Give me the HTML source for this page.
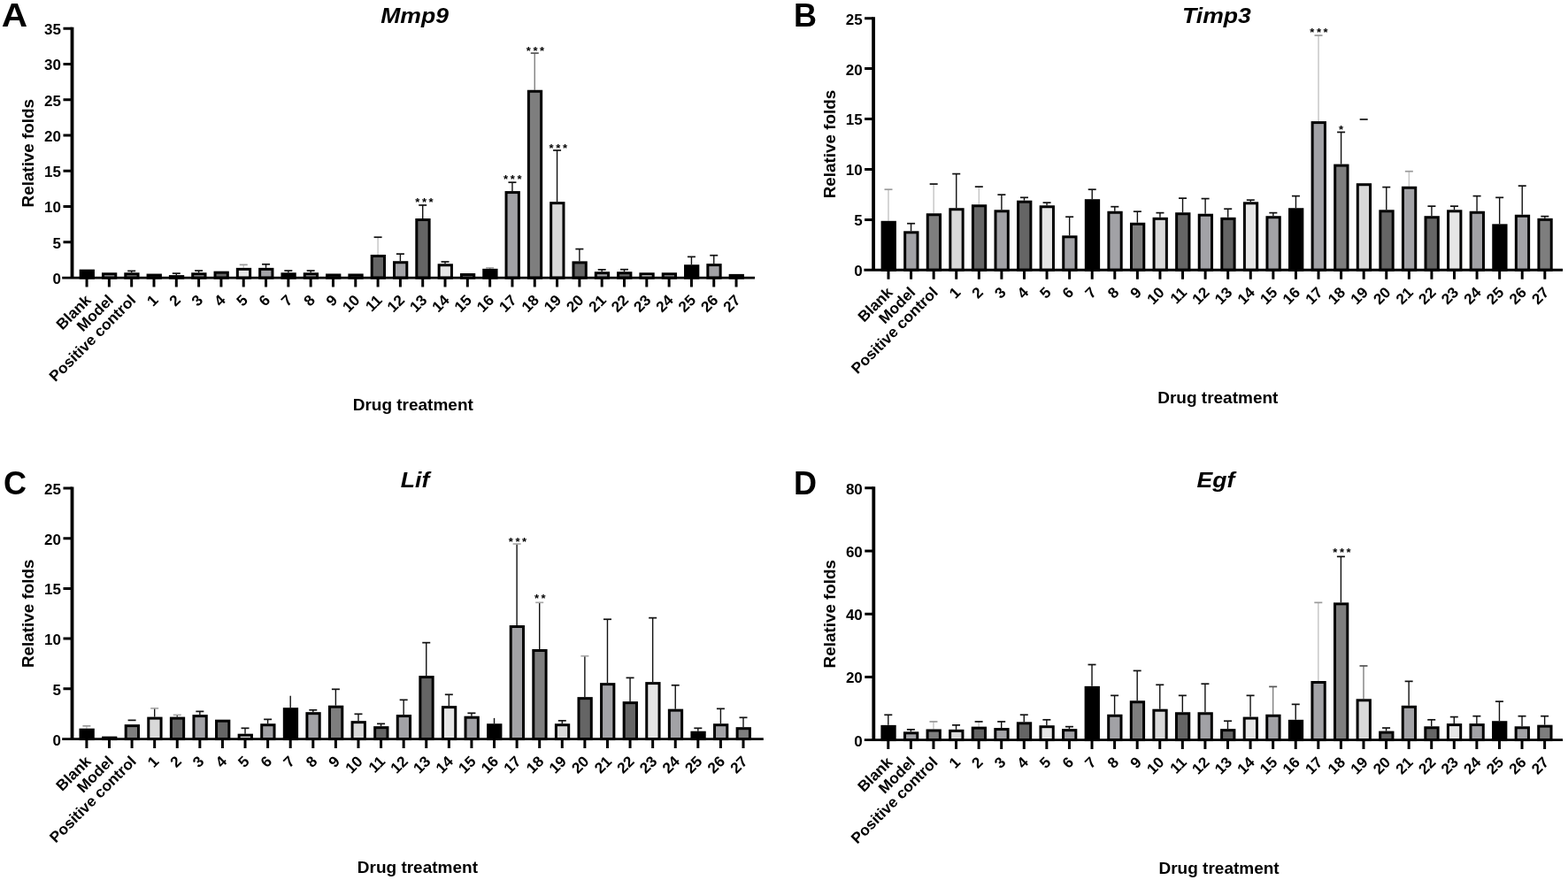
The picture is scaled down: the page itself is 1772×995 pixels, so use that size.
<!DOCTYPE html>
<html><head><meta charset="utf-8"><title>Figure</title>
<style>
html,body{margin:0;padding:0;background:#fff;}
svg{display:block;filter:blur(0.35px);}
text{font-family:"Liberation Sans",Arial,sans-serif;font-weight:bold;fill:#000;}
.L{font-size:36px;}
.T{font-size:24.5px;font-style:italic;text-anchor:middle;}
.Y{font-size:18.3px;text-anchor:middle;}
.X{font-size:19px;text-anchor:middle;}
.N{font-size:17px;text-anchor:end;}
.C{font-size:17px;text-anchor:end;}
.S{font-size:13px;text-anchor:middle;letter-spacing:2.6px;}
.bar{stroke:#000;stroke-width:3;}
.eb{stroke-width:1.4;fill:none;}
.ec{stroke-width:1.7;fill:none;}
.ax{stroke:#000;stroke-width:2.9;fill:none;}
.ay{stroke:#000;stroke-width:3.8;fill:none;}
.tk{stroke:#000;stroke-width:3;fill:none;}
</style></head><body>
<svg width="1772" height="995" viewBox="0 0 1772 995">
<rect width="1772" height="995" fill="#fff"/>
<g><text class="L" transform="translate(1.7,30.3) scale(1.13,1)">A</text><text class="T" transform="translate(468.6,25.7) scale(1.085,1)">Mmp9</text><text class="Y" transform="translate(38.3,173.2) rotate(-90) scale(1.03,1)">Relative folds</text><text class="X" x="466.75" y="463.7">Drug treatment</text><rect x="91.16" y="306.14" width="14.3" height="7.96" fill="#000000" class="bar"/><rect x="116.47" y="309.77" width="14.3" height="4.33" fill="#a2a2a6" class="bar"/><path class="eb" stroke="#111" d="M148.68 308.27V306.37"/><path class="ec" stroke="#111" d="M144.18 306.37H153.18"/><rect x="141.78" y="309.77" width="14.3" height="4.33" fill="#7e7e7e" class="bar"/><rect x="167.09" y="311.05" width="14.3" height="3.05" fill="#d9d9d9" class="bar"/><path class="eb" stroke="#111" d="M199.3 311.08V309.11"/><path class="ec" stroke="#111" d="M194.8 309.11H203.8"/><rect x="192.4" y="312.58" width="14.3" height="1.52" fill="#656565" class="bar"/><path class="eb" stroke="#111" d="M224.61 308.27V306.05"/><path class="ec" stroke="#111" d="M220.11 306.05H229.11"/><rect x="217.71" y="309.77" width="14.3" height="4.33" fill="#a2a2a6" class="bar"/><rect x="243.02" y="308.16" width="14.3" height="5.94" fill="#656565" class="bar"/><path class="eb" stroke="#c4c4c4" d="M275.23 302.87V299.37"/><path class="ec" stroke="#9a9a9a" d="M270.73 299.37H279.73"/><rect x="268.33" y="304.37" width="14.3" height="9.73" fill="#e6e6e6" class="bar"/><path class="eb" stroke="#111" d="M300.54 302.87V298.8"/><path class="ec" stroke="#111" d="M296.04 298.8H305.04"/><rect x="293.64" y="304.37" width="14.3" height="9.73" fill="#a2a2a6" class="bar"/><path class="eb" stroke="#111" d="M325.85 308.27V306.05"/><path class="ec" stroke="#111" d="M321.35 306.05H330.35"/><rect x="318.95" y="309.77" width="14.3" height="4.33" fill="#000000" class="bar"/><path class="eb" stroke="#111" d="M351.16 308.27V306.05"/><path class="ec" stroke="#111" d="M346.66 306.05H355.66"/><rect x="344.26" y="309.77" width="14.3" height="4.33" fill="#a2a2a6" class="bar"/><rect x="369.57" y="310.97" width="14.3" height="3.13" fill="#7e7e7e" class="bar"/><rect x="394.88" y="310.97" width="14.3" height="3.13" fill="#d9d9d9" class="bar"/><path class="eb" stroke="#c4c4c4" d="M427.09 287.98V268.21"/><path class="ec" stroke="#111" d="M422.59 268.21H431.59"/><rect x="420.19" y="289.48" width="14.3" height="24.62" fill="#656565" class="bar"/><path class="eb" stroke="#111" d="M452.4 295.22V287.13"/><path class="ec" stroke="#111" d="M447.9 287.13H456.9"/><rect x="445.5" y="296.72" width="14.3" height="17.38" fill="#a2a2a6" class="bar"/><path class="eb" stroke="#111" d="M477.71 247V231.98"/><path class="ec" stroke="#111" d="M473.21 231.98H482.21"/><rect x="470.81" y="248.5" width="14.3" height="65.6" fill="#656565" class="bar"/><path class="eb" stroke="#111" d="M503.02 298.28V295.98"/><path class="ec" stroke="#111" d="M498.52 295.98H507.52"/><rect x="496.12" y="299.78" width="14.3" height="14.32" fill="#e6e6e6" class="bar"/><rect x="521.43" y="310.49" width="14.3" height="3.61" fill="#a2a2a6" class="bar"/><path class="eb" stroke="#111" d="M553.64 303.84V302.83"/><path class="ec" stroke="#a8a8a8" d="M549.14 302.83H558.14"/><rect x="546.74" y="305.34" width="14.3" height="8.76" fill="#000000" class="bar"/><path class="eb" stroke="#111" d="M578.95 216.08V206.21"/><path class="ec" stroke="#111" d="M574.45 206.21H583.45"/><rect x="572.05" y="217.58" width="14.3" height="96.52" fill="#a2a2a6" class="bar"/><path class="eb" stroke="#808080" d="M604.26 101.75V60.08"/><path class="ec" stroke="#555" d="M599.76 60.08H608.76"/><rect x="597.36" y="103.25" width="14.3" height="210.85" fill="#7e7e7e" class="bar"/><path class="eb" stroke="#111" d="M629.57 228.15V169.98"/><path class="ec" stroke="#111" d="M625.07 169.98H634.07"/><rect x="622.67" y="229.65" width="14.3" height="84.45" fill="#d9d9d9" class="bar"/><path class="eb" stroke="#111" d="M654.88 295.38V281.57"/><path class="ec" stroke="#111" d="M650.38 281.57H659.38"/><rect x="647.98" y="296.88" width="14.3" height="17.22" fill="#656565" class="bar"/><path class="eb" stroke="#111" d="M680.19 307.22V304.84"/><path class="ec" stroke="#111" d="M675.69 304.84H684.69"/><rect x="673.29" y="308.72" width="14.3" height="5.38" fill="#a2a2a6" class="bar"/><path class="eb" stroke="#111" d="M705.5 307.22V304.68"/><path class="ec" stroke="#111" d="M701 304.68H710"/><rect x="698.6" y="308.72" width="14.3" height="5.38" fill="#656565" class="bar"/><rect x="723.91" y="309.77" width="14.3" height="4.33" fill="#e6e6e6" class="bar"/><rect x="749.22" y="309.77" width="14.3" height="4.33" fill="#a2a2a6" class="bar"/><path class="eb" stroke="#111" d="M781.43 299.25V290.35"/><path class="ec" stroke="#111" d="M776.93 290.35H785.93"/><rect x="774.53" y="300.75" width="14.3" height="13.35" fill="#000000" class="bar"/><path class="eb" stroke="#111" d="M806.74 298.12V288.74"/><path class="ec" stroke="#111" d="M802.24 288.74H811.24"/><rect x="799.84" y="299.62" width="14.3" height="14.48" fill="#a2a2a6" class="bar"/><rect x="825.15" y="311.38" width="14.3" height="2.72" fill="#7e7e7e" class="bar"/><text class="S" x="480.8" y="233.3">***</text><text class="S" x="580.6" y="207.1">***</text><text class="S" x="606.3" y="62.1">***</text><text class="S" x="632.1" y="172.2">***</text><path class="ay" d="M81.5 30.8V314.1"/><path class="ax" d="M70.2 314.1H853"/><text class="N" x="69" y="321">0</text><text class="N" x="69" y="280.74">5</text><text class="N" x="69" y="240.49">10</text><text class="N" x="69" y="200.23">15</text><text class="N" x="69" y="159.97">20</text><text class="N" x="69" y="119.71">25</text><text class="N" x="69" y="79.46">30</text><text class="N" x="69" y="39.2">35</text><path class="tk" d="M71.5 273.84H81.5M71.5 233.59H81.5M71.5 193.33H81.5M71.5 153.07H81.5M71.5 112.81H81.5M71.5 72.56H81.5M71.5 32.3H81.5M98.06 314.1V324.6M123.37 314.1V324.6M148.68 314.1V324.6M173.99 314.1V324.6M199.3 314.1V324.6M224.61 314.1V324.6M249.92 314.1V324.6M275.23 314.1V324.6M300.54 314.1V324.6M325.85 314.1V324.6M351.16 314.1V324.6M376.47 314.1V324.6M401.78 314.1V324.6M427.09 314.1V324.6M452.4 314.1V324.6M477.71 314.1V324.6M503.02 314.1V324.6M528.33 314.1V324.6M553.64 314.1V324.6M578.95 314.1V324.6M604.26 314.1V324.6M629.57 314.1V324.6M654.88 314.1V324.6M680.19 314.1V324.6M705.5 314.1V324.6M730.81 314.1V324.6M756.12 314.1V324.6M781.43 314.1V324.6M806.74 314.1V324.6M832.05 314.1V324.6"/><text class="C" transform="translate(103.86,340.4) rotate(-45) scale(1.02,1)">Blank</text><text class="C" transform="translate(129.17,340.4) rotate(-45) scale(1.02,1)">Model</text><text class="C" transform="translate(154.48,340.4) rotate(-45) scale(1.02,1)">Positive control</text><text class="C" transform="translate(179.79,340.4) rotate(-45) scale(1.02,1)">1</text><text class="C" transform="translate(205.1,340.4) rotate(-45) scale(1.02,1)">2</text><text class="C" transform="translate(230.41,340.4) rotate(-45) scale(1.02,1)">3</text><text class="C" transform="translate(255.72,340.4) rotate(-45) scale(1.02,1)">4</text><text class="C" transform="translate(281.03,340.4) rotate(-45) scale(1.02,1)">5</text><text class="C" transform="translate(306.34,340.4) rotate(-45) scale(1.02,1)">6</text><text class="C" transform="translate(331.65,340.4) rotate(-45) scale(1.02,1)">7</text><text class="C" transform="translate(356.96,340.4) rotate(-45) scale(1.02,1)">8</text><text class="C" transform="translate(382.27,340.4) rotate(-45) scale(1.02,1)">9</text><text class="C" transform="translate(407.58,340.4) rotate(-45) scale(1.02,1)">10</text><text class="C" transform="translate(432.89,340.4) rotate(-45) scale(1.02,1)">11</text><text class="C" transform="translate(458.2,340.4) rotate(-45) scale(1.02,1)">12</text><text class="C" transform="translate(483.51,340.4) rotate(-45) scale(1.02,1)">13</text><text class="C" transform="translate(508.82,340.4) rotate(-45) scale(1.02,1)">14</text><text class="C" transform="translate(534.13,340.4) rotate(-45) scale(1.02,1)">15</text><text class="C" transform="translate(559.44,340.4) rotate(-45) scale(1.02,1)">16</text><text class="C" transform="translate(584.75,340.4) rotate(-45) scale(1.02,1)">17</text><text class="C" transform="translate(610.06,340.4) rotate(-45) scale(1.02,1)">18</text><text class="C" transform="translate(635.37,340.4) rotate(-45) scale(1.02,1)">19</text><text class="C" transform="translate(660.68,340.4) rotate(-45) scale(1.02,1)">20</text><text class="C" transform="translate(685.99,340.4) rotate(-45) scale(1.02,1)">21</text><text class="C" transform="translate(711.3,340.4) rotate(-45) scale(1.02,1)">22</text><text class="C" transform="translate(736.61,340.4) rotate(-45) scale(1.02,1)">23</text><text class="C" transform="translate(761.92,340.4) rotate(-45) scale(1.02,1)">24</text><text class="C" transform="translate(787.23,340.4) rotate(-45) scale(1.02,1)">25</text><text class="C" transform="translate(812.54,340.4) rotate(-45) scale(1.02,1)">26</text><text class="C" transform="translate(837.85,340.4) rotate(-45) scale(1.02,1)">27</text></g>
<g><text class="L" x="896.9" y="30.3">B</text><text class="T" transform="translate(1375,25.7) scale(1.085,1)">Timp3</text><text class="Y" transform="translate(943.6,163) rotate(-90) scale(1.03,1)">Relative folds</text><text class="X" x="1376.3" y="456.4">Drug treatment</text><path class="eb" stroke="#c4c4c4" d="M1004 249.8V214.23"/><path class="ec" stroke="#9a9a9a" d="M999.5 214.23H1008.5"/><rect x="997.1" y="251.3" width="14.3" height="54" fill="#000000" class="bar"/><path class="eb" stroke="#111" d="M1029.58 261.3V252.71"/><path class="ec" stroke="#111" d="M1025.08 252.71H1034.08"/><rect x="1022.68" y="262.8" width="14.3" height="42.5" fill="#a2a2a6" class="bar"/><path class="eb" stroke="#c4c4c4" d="M1055.16 241.26V208.08"/><path class="ec" stroke="#111" d="M1050.66 208.08H1059.66"/><rect x="1048.26" y="242.76" width="14.3" height="62.54" fill="#7e7e7e" class="bar"/><path class="eb" stroke="#111" d="M1080.74 235.23V196.58"/><path class="ec" stroke="#111" d="M1076.24 196.58H1085.24"/><rect x="1073.84" y="236.73" width="14.3" height="68.57" fill="#d9d9d9" class="bar"/><path class="eb" stroke="#c4c4c4" d="M1106.32 231.25V211.15"/><path class="ec" stroke="#111" d="M1101.82 211.15H1110.82"/><rect x="1099.42" y="232.75" width="14.3" height="72.55" fill="#656565" class="bar"/><path class="eb" stroke="#111" d="M1131.9 237.28V220.15"/><path class="ec" stroke="#111" d="M1127.4 220.15H1136.4"/><rect x="1125" y="238.78" width="14.3" height="66.52" fill="#a2a2a6" class="bar"/><path class="eb" stroke="#111" d="M1157.48 226.69V223.34"/><path class="ec" stroke="#111" d="M1152.98 223.34H1161.98"/><rect x="1150.58" y="228.19" width="14.3" height="77.11" fill="#656565" class="bar"/><path class="eb" stroke="#111" d="M1183.06 232.27V229.14"/><path class="ec" stroke="#111" d="M1178.56 229.14H1187.56"/><rect x="1176.16" y="233.77" width="14.3" height="71.53" fill="#e6e6e6" class="bar"/><path class="eb" stroke="#111" d="M1208.64 266.31V245.19"/><path class="ec" stroke="#111" d="M1204.14 245.19H1213.14"/><rect x="1201.74" y="267.81" width="14.3" height="37.49" fill="#a2a2a6" class="bar"/><path class="eb" stroke="#111" d="M1234.22 225.21V214.23"/><path class="ec" stroke="#111" d="M1229.72 214.23H1238.72"/><rect x="1227.32" y="226.71" width="14.3" height="78.59" fill="#000000" class="bar"/><path class="eb" stroke="#111" d="M1259.8 238.76V233.69"/><path class="ec" stroke="#111" d="M1255.3 233.69H1264.3"/><rect x="1252.9" y="240.26" width="14.3" height="65.04" fill="#a2a2a6" class="bar"/><path class="eb" stroke="#111" d="M1285.38 251.74V239.16"/><path class="ec" stroke="#111" d="M1280.88 239.16H1289.88"/><rect x="1278.48" y="253.24" width="14.3" height="52.06" fill="#7e7e7e" class="bar"/><path class="eb" stroke="#111" d="M1310.96 245.82V240.64"/><path class="ec" stroke="#111" d="M1306.46 240.64H1315.46"/><rect x="1304.06" y="247.32" width="14.3" height="57.98" fill="#d9d9d9" class="bar"/><path class="eb" stroke="#111" d="M1336.54 240.24V224.13"/><path class="ec" stroke="#111" d="M1332.04 224.13H1341.04"/><rect x="1329.64" y="241.74" width="14.3" height="63.56" fill="#656565" class="bar"/><path class="eb" stroke="#111" d="M1362.12 241.72V224.59"/><path class="ec" stroke="#111" d="M1357.62 224.59H1366.62"/><rect x="1355.22" y="243.22" width="14.3" height="62.08" fill="#a2a2a6" class="bar"/><path class="eb" stroke="#111" d="M1387.7 245.82V236.2"/><path class="ec" stroke="#111" d="M1383.2 236.2H1392.2"/><rect x="1380.8" y="247.32" width="14.3" height="57.98" fill="#656565" class="bar"/><path class="eb" stroke="#111" d="M1413.28 228.29V226.18"/><path class="ec" stroke="#111" d="M1408.78 226.18H1417.78"/><rect x="1406.38" y="229.79" width="14.3" height="75.51" fill="#e6e6e6" class="bar"/><path class="eb" stroke="#111" d="M1438.86 244.22V240.64"/><path class="ec" stroke="#111" d="M1434.36 240.64H1443.36"/><rect x="1431.96" y="245.72" width="14.3" height="59.58" fill="#a2a2a6" class="bar"/><path class="eb" stroke="#111" d="M1464.44 235.23V221.63"/><path class="ec" stroke="#111" d="M1459.94 221.63H1468.94"/><rect x="1457.54" y="236.73" width="14.3" height="68.57" fill="#000000" class="bar"/><path class="eb" stroke="#c4c4c4" d="M1490.02 137.1V40.05"/><path class="ec" stroke="#9a9a9a" d="M1485.52 40.05H1494.52"/><rect x="1483.12" y="138.6" width="14.3" height="166.7" fill="#a2a2a6" class="bar"/><path class="eb" stroke="#111" d="M1515.6 185.6V149.45"/><path class="ec" stroke="#111" d="M1511.1 149.45H1520.1"/><rect x="1508.7" y="187.1" width="14.3" height="118.2" fill="#7e7e7e" class="bar"/><path class="eb" stroke="none" d="M1541.18 207.23V135"/><path class="ec" stroke="#111" d="M1536.68 135H1545.68"/><rect x="1534.28" y="208.73" width="14.3" height="96.57" fill="#d9d9d9" class="bar"/><path class="eb" stroke="#111" d="M1566.76 237.28V211.61"/><path class="ec" stroke="#111" d="M1562.26 211.61H1571.26"/><rect x="1559.86" y="238.78" width="14.3" height="66.52" fill="#656565" class="bar"/><path class="eb" stroke="#c4c4c4" d="M1592.34 210.75V193.74"/><path class="ec" stroke="#9a9a9a" d="M1587.84 193.74H1596.84"/><rect x="1585.44" y="212.25" width="14.3" height="93.05" fill="#a2a2a6" class="bar"/><path class="eb" stroke="#111" d="M1617.92 244.22V233.13"/><path class="ec" stroke="#111" d="M1613.42 233.13H1622.42"/><rect x="1611.02" y="245.72" width="14.3" height="59.58" fill="#656565" class="bar"/><path class="eb" stroke="#111" d="M1643.5 237.28V233.13"/><path class="ec" stroke="#111" d="M1639 233.13H1648"/><rect x="1636.6" y="238.78" width="14.3" height="66.52" fill="#e6e6e6" class="bar"/><path class="eb" stroke="#111" d="M1669.08 238.76V221.63"/><path class="ec" stroke="#111" d="M1664.58 221.63H1673.58"/><rect x="1662.18" y="240.26" width="14.3" height="65.04" fill="#a2a2a6" class="bar"/><path class="eb" stroke="#111" d="M1694.66 253.33V223.34"/><path class="ec" stroke="#111" d="M1690.16 223.34H1699.16"/><rect x="1687.76" y="254.83" width="14.3" height="50.47" fill="#000000" class="bar"/><path class="eb" stroke="#111" d="M1720.24 242.74V210.13"/><path class="ec" stroke="#111" d="M1715.74 210.13H1724.74"/><rect x="1713.34" y="244.24" width="14.3" height="61.06" fill="#a2a2a6" class="bar"/><path class="eb" stroke="#111" d="M1745.82 246.84V244.62"/><path class="ec" stroke="#111" d="M1741.32 244.62H1750.32"/><rect x="1738.92" y="248.34" width="14.3" height="56.96" fill="#7e7e7e" class="bar"/><text class="S" x="1491.8" y="41.3">***</text><text class="S" x="1516.9" y="151.1">*</text><path class="ay" d="M987.1 19.2V305.3"/><path class="ax" d="M976.4 305.3H1766.1"/><text class="N" x="974.6" y="312.2">0</text><text class="N" x="974.6" y="255.28">5</text><text class="N" x="974.6" y="198.36">10</text><text class="N" x="974.6" y="141.44">15</text><text class="N" x="974.6" y="84.52">20</text><text class="N" x="974.6" y="27.6">25</text><path class="tk" d="M977.1 248.38H987.1M977.1 191.46H987.1M977.1 134.54H987.1M977.1 77.62H987.1M977.1 20.7H987.1M1004 305.3V315.8M1029.58 305.3V315.8M1055.16 305.3V315.8M1080.74 305.3V315.8M1106.32 305.3V315.8M1131.9 305.3V315.8M1157.48 305.3V315.8M1183.06 305.3V315.8M1208.64 305.3V315.8M1234.22 305.3V315.8M1259.8 305.3V315.8M1285.38 305.3V315.8M1310.96 305.3V315.8M1336.54 305.3V315.8M1362.12 305.3V315.8M1387.7 305.3V315.8M1413.28 305.3V315.8M1438.86 305.3V315.8M1464.44 305.3V315.8M1490.02 305.3V315.8M1515.6 305.3V315.8M1541.18 305.3V315.8M1566.76 305.3V315.8M1592.34 305.3V315.8M1617.92 305.3V315.8M1643.5 305.3V315.8M1669.08 305.3V315.8M1694.66 305.3V315.8M1720.24 305.3V315.8M1745.82 305.3V315.8"/><text class="C" transform="translate(1009.8,331.6) rotate(-45) scale(1.02,1)">Blank</text><text class="C" transform="translate(1035.38,331.6) rotate(-45) scale(1.02,1)">Model</text><text class="C" transform="translate(1060.96,331.6) rotate(-45) scale(1.02,1)">Positive control</text><text class="C" transform="translate(1086.54,331.6) rotate(-45) scale(1.02,1)">1</text><text class="C" transform="translate(1112.12,331.6) rotate(-45) scale(1.02,1)">2</text><text class="C" transform="translate(1137.7,331.6) rotate(-45) scale(1.02,1)">3</text><text class="C" transform="translate(1163.28,331.6) rotate(-45) scale(1.02,1)">4</text><text class="C" transform="translate(1188.86,331.6) rotate(-45) scale(1.02,1)">5</text><text class="C" transform="translate(1214.44,331.6) rotate(-45) scale(1.02,1)">6</text><text class="C" transform="translate(1240.02,331.6) rotate(-45) scale(1.02,1)">7</text><text class="C" transform="translate(1265.6,331.6) rotate(-45) scale(1.02,1)">8</text><text class="C" transform="translate(1291.18,331.6) rotate(-45) scale(1.02,1)">9</text><text class="C" transform="translate(1316.76,331.6) rotate(-45) scale(1.02,1)">10</text><text class="C" transform="translate(1342.34,331.6) rotate(-45) scale(1.02,1)">11</text><text class="C" transform="translate(1367.92,331.6) rotate(-45) scale(1.02,1)">12</text><text class="C" transform="translate(1393.5,331.6) rotate(-45) scale(1.02,1)">13</text><text class="C" transform="translate(1419.08,331.6) rotate(-45) scale(1.02,1)">14</text><text class="C" transform="translate(1444.66,331.6) rotate(-45) scale(1.02,1)">15</text><text class="C" transform="translate(1470.24,331.6) rotate(-45) scale(1.02,1)">16</text><text class="C" transform="translate(1495.82,331.6) rotate(-45) scale(1.02,1)">17</text><text class="C" transform="translate(1521.4,331.6) rotate(-45) scale(1.02,1)">18</text><text class="C" transform="translate(1546.98,331.6) rotate(-45) scale(1.02,1)">19</text><text class="C" transform="translate(1572.56,331.6) rotate(-45) scale(1.02,1)">20</text><text class="C" transform="translate(1598.14,331.6) rotate(-45) scale(1.02,1)">21</text><text class="C" transform="translate(1623.72,331.6) rotate(-45) scale(1.02,1)">22</text><text class="C" transform="translate(1649.3,331.6) rotate(-45) scale(1.02,1)">23</text><text class="C" transform="translate(1674.88,331.6) rotate(-45) scale(1.02,1)">24</text><text class="C" transform="translate(1700.46,331.6) rotate(-45) scale(1.02,1)">25</text><text class="C" transform="translate(1726.04,331.6) rotate(-45) scale(1.02,1)">26</text><text class="C" transform="translate(1751.62,331.6) rotate(-45) scale(1.02,1)">27</text></g>
<g><text class="L" x="3.9" y="559.4">C</text><text class="T" transform="translate(469,551.3) scale(1.085,1)">Lif</text><text class="Y" transform="translate(38.3,693.75) rotate(-90) scale(1.03,1)">Relative folds</text><text class="X" x="471.9" y="986.6">Drug treatment</text><path class="eb" stroke="#c4c4c4" d="M97.9 823.67V820.85"/><path class="ec" stroke="#9a9a9a" d="M93.4 820.85H102.4"/><rect x="91" y="825.17" width="14.3" height="10.43" fill="#000000" class="bar"/><rect x="116.59" y="834.13" width="14.3" height="1.47" fill="#a2a2a6" class="bar"/><path class="eb" stroke="none" d="M149.08 819.13V814.38"/><path class="ec" stroke="#111" d="M144.58 814.38H153.58"/><rect x="142.18" y="820.63" width="14.3" height="14.97" fill="#7e7e7e" class="bar"/><path class="eb" stroke="#111" d="M174.67 810.62V800.88"/><path class="ec" stroke="#a8a8a8" d="M170.17 800.88H179.17"/><rect x="167.77" y="812.12" width="14.3" height="23.48" fill="#d9d9d9" class="bar"/><path class="eb" stroke="#111" d="M200.26 810.62V808.36"/><path class="ec" stroke="#a8a8a8" d="M195.76 808.36H204.76"/><rect x="193.36" y="812.12" width="14.3" height="23.48" fill="#656565" class="bar"/><path class="eb" stroke="#111" d="M225.85 808.12V804.39"/><path class="ec" stroke="#111" d="M221.35 804.39H230.35"/><rect x="218.95" y="809.62" width="14.3" height="25.98" fill="#a2a2a6" class="bar"/><rect x="244.54" y="815.18" width="14.3" height="20.42" fill="#656565" class="bar"/><path class="eb" stroke="#111" d="M277.03 829.68V823.34"/><path class="ec" stroke="#111" d="M272.53 823.34H281.53"/><rect x="270.13" y="831.18" width="14.3" height="4.42" fill="#e6e6e6" class="bar"/><path class="eb" stroke="#111" d="M302.62 818.22V813.36"/><path class="ec" stroke="#111" d="M298.12 813.36H307.12"/><rect x="295.72" y="819.72" width="14.3" height="15.88" fill="#a2a2a6" class="bar"/><path class="eb" stroke="#111" d="M328.21 800.18V786.8"/><path class="ec" stroke="none" d="M323.71 786.8H332.71"/><rect x="321.31" y="801.68" width="14.3" height="33.92" fill="#000000" class="bar"/><path class="eb" stroke="#111" d="M353.8 805.17V802.8"/><path class="ec" stroke="#111" d="M349.3 802.8H358.3"/><rect x="346.9" y="806.67" width="14.3" height="28.93" fill="#a2a2a6" class="bar"/><path class="eb" stroke="#111" d="M379.39 797.68V779.31"/><path class="ec" stroke="#111" d="M374.89 779.31H383.89"/><rect x="372.49" y="799.18" width="14.3" height="36.42" fill="#7e7e7e" class="bar"/><path class="eb" stroke="#111" d="M404.98 815.15V807.34"/><path class="ec" stroke="#111" d="M400.48 807.34H409.48"/><rect x="398.08" y="816.65" width="14.3" height="18.95" fill="#d9d9d9" class="bar"/><path class="eb" stroke="#111" d="M430.57 821.17V818.35"/><path class="ec" stroke="#111" d="M426.07 818.35H435.07"/><rect x="423.67" y="822.67" width="14.3" height="12.93" fill="#656565" class="bar"/><path class="eb" stroke="#111" d="M456.16 808.12V791.34"/><path class="ec" stroke="#111" d="M451.66 791.34H460.66"/><rect x="449.26" y="809.62" width="14.3" height="25.98" fill="#a2a2a6" class="bar"/><path class="eb" stroke="#111" d="M481.75 764.09V726.66"/><path class="ec" stroke="#111" d="M477.25 726.66H486.25"/><rect x="474.85" y="765.59" width="14.3" height="70.01" fill="#656565" class="bar"/><path class="eb" stroke="#111" d="M507.34 798.13V785.33"/><path class="ec" stroke="#111" d="M502.84 785.33H511.84"/><rect x="500.44" y="799.63" width="14.3" height="35.97" fill="#e6e6e6" class="bar"/><path class="eb" stroke="#111" d="M532.93 809.71V806.32"/><path class="ec" stroke="#111" d="M528.43 806.32H537.43"/><rect x="526.03" y="811.21" width="14.3" height="24.39" fill="#a2a2a6" class="bar"/><path class="eb" stroke="#111" d="M558.52 818.22V811.88"/><path class="ec" stroke="none" d="M554.02 811.88H563.02"/><rect x="551.62" y="819.72" width="14.3" height="15.88" fill="#000000" class="bar"/><path class="eb" stroke="#111" d="M584.11 707.01V614.99"/><path class="ec" stroke="#a8a8a8" d="M579.61 614.99H588.61"/><rect x="577.21" y="708.51" width="14.3" height="127.09" fill="#a2a2a6" class="bar"/><path class="eb" stroke="#111" d="M609.7 734.02V681.27"/><path class="ec" stroke="#a8a8a8" d="M605.2 681.27H614.2"/><rect x="602.8" y="735.52" width="14.3" height="100.08" fill="#7e7e7e" class="bar"/><path class="eb" stroke="#111" d="M635.29 818.22V814.83"/><path class="ec" stroke="#111" d="M630.79 814.83H639.79"/><rect x="628.39" y="819.72" width="14.3" height="15.88" fill="#d9d9d9" class="bar"/><path class="eb" stroke="#111" d="M660.88 788.15V741.75"/><path class="ec" stroke="#a8a8a8" d="M656.38 741.75H665.38"/><rect x="653.98" y="789.65" width="14.3" height="45.95" fill="#656565" class="bar"/><path class="eb" stroke="#111" d="M686.47 772.15V700.22"/><path class="ec" stroke="#111" d="M681.97 700.22H690.97"/><rect x="679.57" y="773.65" width="14.3" height="61.95" fill="#a2a2a6" class="bar"/><path class="eb" stroke="#111" d="M712.06 793.14V766.38"/><path class="ec" stroke="#111" d="M707.56 766.38H716.56"/><rect x="705.16" y="794.64" width="14.3" height="40.96" fill="#656565" class="bar"/><path class="eb" stroke="#111" d="M737.65 771.12V698.63"/><path class="ec" stroke="#111" d="M733.15 698.63H742.15"/><rect x="730.75" y="772.62" width="14.3" height="62.98" fill="#e6e6e6" class="bar"/><path class="eb" stroke="#111" d="M763.24 801.65V774.77"/><path class="ec" stroke="#111" d="M758.74 774.77H767.74"/><rect x="756.34" y="803.15" width="14.3" height="32.45" fill="#a2a2a6" class="bar"/><path class="eb" stroke="#111" d="M788.83 826.73V823.34"/><path class="ec" stroke="#111" d="M784.33 823.34H793.33"/><rect x="781.93" y="828.23" width="14.3" height="7.37" fill="#000000" class="bar"/><path class="eb" stroke="#111" d="M814.42 818.22V801.33"/><path class="ec" stroke="#111" d="M809.92 801.33H818.92"/><rect x="807.52" y="819.72" width="14.3" height="15.88" fill="#a2a2a6" class="bar"/><path class="eb" stroke="#111" d="M840.01 822.19V811.32"/><path class="ec" stroke="#111" d="M835.51 811.32H844.51"/><rect x="833.11" y="823.69" width="14.3" height="11.91" fill="#7e7e7e" class="bar"/><text class="S" x="586.3" y="616.7">***</text><text class="S" x="611.6" y="680.7">**</text><path class="ay" d="M81.5 550.4V835.6"/><path class="ax" d="M70.2 835.6H862.8"/><text class="N" x="69" y="842.5">0</text><text class="N" x="69" y="785.76">5</text><text class="N" x="69" y="729.02">10</text><text class="N" x="69" y="672.28">15</text><text class="N" x="69" y="615.54">20</text><text class="N" x="69" y="558.8">25</text><path class="tk" d="M71.5 778.86H81.5M71.5 722.12H81.5M71.5 665.38H81.5M71.5 608.64H81.5M71.5 551.9H81.5M97.9 835.6V846.1M123.49 835.6V846.1M149.08 835.6V846.1M174.67 835.6V846.1M200.26 835.6V846.1M225.85 835.6V846.1M251.44 835.6V846.1M277.03 835.6V846.1M302.62 835.6V846.1M328.21 835.6V846.1M353.8 835.6V846.1M379.39 835.6V846.1M404.98 835.6V846.1M430.57 835.6V846.1M456.16 835.6V846.1M481.75 835.6V846.1M507.34 835.6V846.1M532.93 835.6V846.1M558.52 835.6V846.1M584.11 835.6V846.1M609.7 835.6V846.1M635.29 835.6V846.1M660.88 835.6V846.1M686.47 835.6V846.1M712.06 835.6V846.1M737.65 835.6V846.1M763.24 835.6V846.1M788.83 835.6V846.1M814.42 835.6V846.1M840.01 835.6V846.1"/><text class="C" transform="translate(103.7,861.9) rotate(-45) scale(1.02,1)">Blank</text><text class="C" transform="translate(129.29,861.9) rotate(-45) scale(1.02,1)">Model</text><text class="C" transform="translate(154.88,861.9) rotate(-45) scale(1.02,1)">Positive control</text><text class="C" transform="translate(180.47,861.9) rotate(-45) scale(1.02,1)">1</text><text class="C" transform="translate(206.06,861.9) rotate(-45) scale(1.02,1)">2</text><text class="C" transform="translate(231.65,861.9) rotate(-45) scale(1.02,1)">3</text><text class="C" transform="translate(257.24,861.9) rotate(-45) scale(1.02,1)">4</text><text class="C" transform="translate(282.83,861.9) rotate(-45) scale(1.02,1)">5</text><text class="C" transform="translate(308.42,861.9) rotate(-45) scale(1.02,1)">6</text><text class="C" transform="translate(334.01,861.9) rotate(-45) scale(1.02,1)">7</text><text class="C" transform="translate(359.6,861.9) rotate(-45) scale(1.02,1)">8</text><text class="C" transform="translate(385.19,861.9) rotate(-45) scale(1.02,1)">9</text><text class="C" transform="translate(410.78,861.9) rotate(-45) scale(1.02,1)">10</text><text class="C" transform="translate(436.37,861.9) rotate(-45) scale(1.02,1)">11</text><text class="C" transform="translate(461.96,861.9) rotate(-45) scale(1.02,1)">12</text><text class="C" transform="translate(487.55,861.9) rotate(-45) scale(1.02,1)">13</text><text class="C" transform="translate(513.14,861.9) rotate(-45) scale(1.02,1)">14</text><text class="C" transform="translate(538.73,861.9) rotate(-45) scale(1.02,1)">15</text><text class="C" transform="translate(564.32,861.9) rotate(-45) scale(1.02,1)">16</text><text class="C" transform="translate(589.91,861.9) rotate(-45) scale(1.02,1)">17</text><text class="C" transform="translate(615.5,861.9) rotate(-45) scale(1.02,1)">18</text><text class="C" transform="translate(641.09,861.9) rotate(-45) scale(1.02,1)">19</text><text class="C" transform="translate(666.68,861.9) rotate(-45) scale(1.02,1)">20</text><text class="C" transform="translate(692.27,861.9) rotate(-45) scale(1.02,1)">21</text><text class="C" transform="translate(717.86,861.9) rotate(-45) scale(1.02,1)">22</text><text class="C" transform="translate(743.45,861.9) rotate(-45) scale(1.02,1)">23</text><text class="C" transform="translate(769.04,861.9) rotate(-45) scale(1.02,1)">24</text><text class="C" transform="translate(794.63,861.9) rotate(-45) scale(1.02,1)">25</text><text class="C" transform="translate(820.22,861.9) rotate(-45) scale(1.02,1)">26</text><text class="C" transform="translate(845.81,861.9) rotate(-45) scale(1.02,1)">27</text></g>
<g><text class="L" x="896.9" y="559.4">D</text><text class="T" transform="translate(1374,551.3) scale(1.085,1)">Egf</text><text class="Y" transform="translate(943.6,694.15) rotate(-90) scale(1.03,1)">Relative folds</text><text class="X" x="1377.6" y="987.5">Drug treatment</text><path class="eb" stroke="#111" d="M1003.8 819.86V808.29"/><path class="ec" stroke="#111" d="M999.3 808.29H1008.3"/><rect x="996.9" y="821.36" width="14.3" height="15.24" fill="#000000" class="bar"/><path class="eb" stroke="#111" d="M1029.38 827.34V824.85"/><path class="ec" stroke="#111" d="M1024.88 824.85H1033.88"/><rect x="1022.48" y="828.84" width="14.3" height="7.76" fill="#a2a2a6" class="bar"/><path class="eb" stroke="#c4c4c4" d="M1054.96 824.49V815.94"/><path class="ec" stroke="#9a9a9a" d="M1050.46 815.94H1059.46"/><rect x="1048.06" y="825.99" width="14.3" height="10.61" fill="#7e7e7e" class="bar"/><path class="eb" stroke="#111" d="M1080.54 824.85V819.86"/><path class="ec" stroke="#111" d="M1076.04 819.86H1085.04"/><rect x="1073.64" y="826.35" width="14.3" height="10.25" fill="#d9d9d9" class="bar"/><path class="eb" stroke="#c4c4c4" d="M1106.12 821.64V815.94"/><path class="ec" stroke="#111" d="M1101.62 815.94H1110.62"/><rect x="1099.22" y="823.14" width="14.3" height="13.46" fill="#656565" class="bar"/><path class="eb" stroke="#111" d="M1131.7 823.07V815.94"/><path class="ec" stroke="#111" d="M1127.2 815.94H1136.2"/><rect x="1124.8" y="824.57" width="14.3" height="12.03" fill="#a2a2a6" class="bar"/><path class="eb" stroke="#111" d="M1157.28 816.3V808.22"/><path class="ec" stroke="#111" d="M1152.78 808.22H1161.78"/><rect x="1150.38" y="817.8" width="14.3" height="18.8" fill="#656565" class="bar"/><path class="eb" stroke="#111" d="M1182.86 820.22V813.81"/><path class="ec" stroke="#111" d="M1178.36 813.81H1187.36"/><rect x="1175.96" y="821.72" width="14.3" height="14.88" fill="#e6e6e6" class="bar"/><path class="eb" stroke="#111" d="M1208.44 824.14V821.64"/><path class="ec" stroke="#111" d="M1203.94 821.64H1212.94"/><rect x="1201.54" y="825.64" width="14.3" height="10.96" fill="#a2a2a6" class="bar"/><path class="eb" stroke="#111" d="M1234.02 775.85V751.49"/><path class="ec" stroke="#111" d="M1229.52 751.49H1238.52"/><rect x="1227.12" y="777.35" width="14.3" height="59.25" fill="#000000" class="bar"/><path class="eb" stroke="#111" d="M1259.6 807.75V786.39"/><path class="ec" stroke="#111" d="M1255.1 786.39H1264.1"/><rect x="1252.7" y="809.25" width="14.3" height="27.35" fill="#a2a2a6" class="bar"/><path class="eb" stroke="#111" d="M1285.18 792.26V758.39"/><path class="ec" stroke="#111" d="M1280.68 758.39H1289.68"/><rect x="1278.28" y="793.76" width="14.3" height="42.84" fill="#7e7e7e" class="bar"/><path class="eb" stroke="#111" d="M1310.76 801.7V774.28"/><path class="ec" stroke="#111" d="M1306.26 774.28H1315.26"/><rect x="1303.86" y="803.2" width="14.3" height="33.4" fill="#d9d9d9" class="bar"/><path class="eb" stroke="#111" d="M1336.34 805.26V786.39"/><path class="ec" stroke="#111" d="M1331.84 786.39H1340.84"/><rect x="1329.44" y="806.76" width="14.3" height="29.84" fill="#656565" class="bar"/><path class="eb" stroke="#111" d="M1361.92 805.26V773.21"/><path class="ec" stroke="#111" d="M1357.42 773.21H1366.42"/><rect x="1355.02" y="806.76" width="14.3" height="29.84" fill="#a2a2a6" class="bar"/><path class="eb" stroke="#111" d="M1387.5 824.14V815.23"/><path class="ec" stroke="#111" d="M1383 815.23H1392"/><rect x="1380.6" y="825.64" width="14.3" height="10.96" fill="#656565" class="bar"/><path class="eb" stroke="#111" d="M1413.08 810.6V786.39"/><path class="ec" stroke="#111" d="M1408.58 786.39H1417.58"/><rect x="1406.18" y="812.1" width="14.3" height="24.5" fill="#e6e6e6" class="bar"/><path class="eb" stroke="#808080" d="M1438.66 807.75V776.41"/><path class="ec" stroke="#555" d="M1434.16 776.41H1443.16"/><rect x="1431.76" y="809.25" width="14.3" height="27.35" fill="#a2a2a6" class="bar"/><path class="eb" stroke="#111" d="M1464.24 813.81V796.36"/><path class="ec" stroke="#111" d="M1459.74 796.36H1468.74"/><rect x="1457.34" y="815.31" width="14.3" height="21.29" fill="#000000" class="bar"/><path class="eb" stroke="#c4c4c4" d="M1489.82 770V681.33"/><path class="ec" stroke="#9a9a9a" d="M1485.32 681.33H1494.32"/><rect x="1482.92" y="771.5" width="14.3" height="65.1" fill="#a2a2a6" class="bar"/><path class="eb" stroke="#111" d="M1515.4 681.33V629.34"/><path class="ec" stroke="#111" d="M1510.9 629.34H1519.9"/><rect x="1508.5" y="682.83" width="14.3" height="153.77" fill="#7e7e7e" class="bar"/><path class="eb" stroke="#808080" d="M1540.98 790.3V752.91"/><path class="ec" stroke="#555" d="M1536.48 752.91H1545.48"/><rect x="1534.08" y="791.8" width="14.3" height="44.8" fill="#d9d9d9" class="bar"/><path class="eb" stroke="#111" d="M1566.56 826.63V823.07"/><path class="ec" stroke="#111" d="M1562.06 823.07H1571.06"/><rect x="1559.66" y="828.13" width="14.3" height="8.47" fill="#656565" class="bar"/><path class="eb" stroke="#111" d="M1592.14 797.78V770.36"/><path class="ec" stroke="#111" d="M1587.64 770.36H1596.64"/><rect x="1585.24" y="799.28" width="14.3" height="37.32" fill="#a2a2a6" class="bar"/><path class="eb" stroke="#111" d="M1617.72 821.29V813.81"/><path class="ec" stroke="#111" d="M1613.22 813.81H1622.22"/><rect x="1610.82" y="822.79" width="14.3" height="13.81" fill="#656565" class="bar"/><path class="eb" stroke="#111" d="M1643.3 818.08V810.6"/><path class="ec" stroke="#111" d="M1638.8 810.6H1647.8"/><rect x="1636.4" y="819.58" width="14.3" height="17.02" fill="#e6e6e6" class="bar"/><path class="eb" stroke="#111" d="M1668.88 818.08V809.71"/><path class="ec" stroke="#111" d="M1664.38 809.71H1673.38"/><rect x="1661.98" y="819.58" width="14.3" height="17.02" fill="#a2a2a6" class="bar"/><path class="eb" stroke="#111" d="M1694.46 815.23V793.15"/><path class="ec" stroke="#111" d="M1689.96 793.15H1698.96"/><rect x="1687.56" y="816.73" width="14.3" height="19.87" fill="#000000" class="bar"/><path class="eb" stroke="#111" d="M1720.04 821.29V809.71"/><path class="ec" stroke="#111" d="M1715.54 809.71H1724.54"/><rect x="1713.14" y="822.79" width="14.3" height="13.81" fill="#a2a2a6" class="bar"/><path class="eb" stroke="#111" d="M1745.62 819.65V809.71"/><path class="ec" stroke="#111" d="M1741.12 809.71H1750.12"/><rect x="1738.72" y="821.15" width="14.3" height="15.45" fill="#7e7e7e" class="bar"/><text class="S" x="1517.8" y="629">***</text><path class="ay" d="M987.3 550.2V836.6"/><path class="ax" d="M976.8 836.6H1766.1"/><text class="N" x="974.8" y="843.5">0</text><text class="N" x="974.8" y="772.27">20</text><text class="N" x="974.8" y="701.05">40</text><text class="N" x="974.8" y="629.83">60</text><text class="N" x="974.8" y="558.6">80</text><path class="tk" d="M977.3 765.38H987.3M977.3 694.15H987.3M977.3 622.93H987.3M977.3 551.7H987.3M1003.8 836.6V847.1M1029.38 836.6V847.1M1054.96 836.6V847.1M1080.54 836.6V847.1M1106.12 836.6V847.1M1131.7 836.6V847.1M1157.28 836.6V847.1M1182.86 836.6V847.1M1208.44 836.6V847.1M1234.02 836.6V847.1M1259.6 836.6V847.1M1285.18 836.6V847.1M1310.76 836.6V847.1M1336.34 836.6V847.1M1361.92 836.6V847.1M1387.5 836.6V847.1M1413.08 836.6V847.1M1438.66 836.6V847.1M1464.24 836.6V847.1M1489.82 836.6V847.1M1515.4 836.6V847.1M1540.98 836.6V847.1M1566.56 836.6V847.1M1592.14 836.6V847.1M1617.72 836.6V847.1M1643.3 836.6V847.1M1668.88 836.6V847.1M1694.46 836.6V847.1M1720.04 836.6V847.1M1745.62 836.6V847.1"/><text class="C" transform="translate(1009.6,862.9) rotate(-45) scale(1.02,1)">Blank</text><text class="C" transform="translate(1035.18,862.9) rotate(-45) scale(1.02,1)">Model</text><text class="C" transform="translate(1060.76,862.9) rotate(-45) scale(1.02,1)">Positive control</text><text class="C" transform="translate(1086.34,862.9) rotate(-45) scale(1.02,1)">1</text><text class="C" transform="translate(1111.92,862.9) rotate(-45) scale(1.02,1)">2</text><text class="C" transform="translate(1137.5,862.9) rotate(-45) scale(1.02,1)">3</text><text class="C" transform="translate(1163.08,862.9) rotate(-45) scale(1.02,1)">4</text><text class="C" transform="translate(1188.66,862.9) rotate(-45) scale(1.02,1)">5</text><text class="C" transform="translate(1214.24,862.9) rotate(-45) scale(1.02,1)">6</text><text class="C" transform="translate(1239.82,862.9) rotate(-45) scale(1.02,1)">7</text><text class="C" transform="translate(1265.4,862.9) rotate(-45) scale(1.02,1)">8</text><text class="C" transform="translate(1290.98,862.9) rotate(-45) scale(1.02,1)">9</text><text class="C" transform="translate(1316.56,862.9) rotate(-45) scale(1.02,1)">10</text><text class="C" transform="translate(1342.14,862.9) rotate(-45) scale(1.02,1)">11</text><text class="C" transform="translate(1367.72,862.9) rotate(-45) scale(1.02,1)">12</text><text class="C" transform="translate(1393.3,862.9) rotate(-45) scale(1.02,1)">13</text><text class="C" transform="translate(1418.88,862.9) rotate(-45) scale(1.02,1)">14</text><text class="C" transform="translate(1444.46,862.9) rotate(-45) scale(1.02,1)">15</text><text class="C" transform="translate(1470.04,862.9) rotate(-45) scale(1.02,1)">16</text><text class="C" transform="translate(1495.62,862.9) rotate(-45) scale(1.02,1)">17</text><text class="C" transform="translate(1521.2,862.9) rotate(-45) scale(1.02,1)">18</text><text class="C" transform="translate(1546.78,862.9) rotate(-45) scale(1.02,1)">19</text><text class="C" transform="translate(1572.36,862.9) rotate(-45) scale(1.02,1)">20</text><text class="C" transform="translate(1597.94,862.9) rotate(-45) scale(1.02,1)">21</text><text class="C" transform="translate(1623.52,862.9) rotate(-45) scale(1.02,1)">22</text><text class="C" transform="translate(1649.1,862.9) rotate(-45) scale(1.02,1)">23</text><text class="C" transform="translate(1674.68,862.9) rotate(-45) scale(1.02,1)">24</text><text class="C" transform="translate(1700.26,862.9) rotate(-45) scale(1.02,1)">25</text><text class="C" transform="translate(1725.84,862.9) rotate(-45) scale(1.02,1)">26</text><text class="C" transform="translate(1751.42,862.9) rotate(-45) scale(1.02,1)">27</text></g>
</svg></body></html>
